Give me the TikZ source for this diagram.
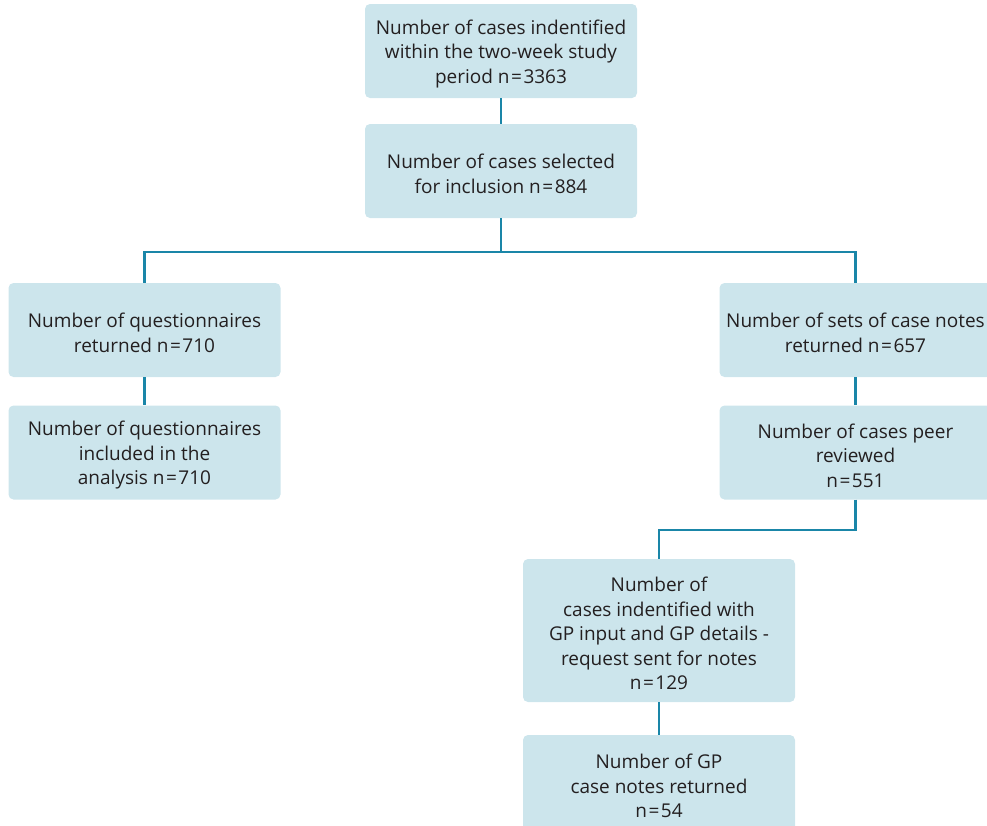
\documentclass[tikz,border=0pt]{standalone}
\usepackage{fontspec}
\setmainfont{Open Sans}
\definecolor{boxfill}{HTML}{CCE5EC}
\definecolor{linec}{HTML}{1A86A8}
\definecolor{txt}{HTML}{231F20}
\newcommand{\eqs}{\kern1.5pt=\kern1.5pt}
\begin{document}
\begin{tikzpicture}[x=1pt,y=-1pt,
  box/.style={fill=boxfill, rounded corners=5pt, minimum width=272pt, inner sep=0pt},
  lbl/.style={align=center, text=txt, font=\fontsize{19}{24.5}\selectfont, inner sep=0pt},
  conn/.style={draw=linec, line width=2.7pt}]
\useasboundingbox (0,0) rectangle (987,825);
\clip (0,0) rectangle (987,825);
\node[box, minimum height=94pt] (a) at (501,51) {};
\node[box, minimum height=94pt] (b) at (501,171) {};
\node[box, minimum height=94pt] (c) at (144.5,330) {};
\node[box, minimum height=94pt] (d) at (144.5,452.5) {};
\node[box, minimum height=94pt] (e) at (855.5,330) {};
\node[box, minimum height=94pt] (f) at (855.5,452.5) {};
\node[box, minimum height=143pt] (g) at (659,630.5) {};
\node[box, minimum height=96pt] (h) at (659,783) {};
\node[lbl] (ta) at ([yshift=-3pt]a.center) {Number of cases indentified\\within the two-week study\\period n\eqs 3363};
\node[lbl] (tb) at ([yshift=-3pt]b.center) {Number of cases selected\\for inclusion n\eqs 884};
\node[lbl] (tc) at ([yshift=-3pt]c.center) {Number of questionnaires\\returned n\eqs 710};
\node[lbl] (td) at ([yshift=-3pt]d.center) {Number of questionnaires\\included in the\\analysis n\eqs 710};
\node[lbl] (te) at ([yshift=-3pt]e.center) {Number of sets of case notes\\returned n\eqs 657};
\node[lbl] (tf) at ([yshift=-3pt]f.center) {Number of cases peer\\reviewed\\n\eqs 551};
\node[lbl] (tg) at ([yshift=-3pt]g.center) {Number of\\cases indentified with\\GP input and GP details -\\request sent for notes\\n\eqs 129};
\node[lbl] (th) at ([yshift=-3pt]h.center) {Number of GP\\case notes returned\\n\eqs 54};
\coordinate (j1) at (501,252);
\coordinate (j2) at (855.5,530);
\draw[conn] (a.south) -- (b.north);
\draw[conn] (b.south) -- (j1) -| (c.north);
\draw[conn] (j1) -| (e.north);
\draw[conn] (c.south) -- (d.north);
\draw[conn] (e.south) -- (f.north);
\draw[conn] (f.south) -- (j2) -| (g.north);
\draw[conn] (g.south) -- (h.north);
\end{tikzpicture}
\end{document}
